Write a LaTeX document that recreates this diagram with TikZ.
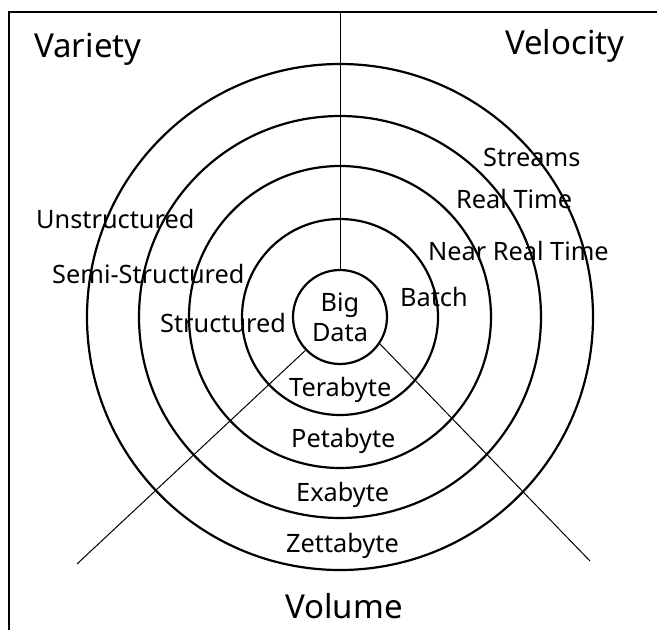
\documentclass[tikz,border=0pt]{standalone}
\usepackage{fontspec}
\setmainfont{Noto Sans}
\begin{document}
\begin{tikzpicture}[x=1pt,y=-1pt,
  ring/.style={line width=2.2pt},
  thin/.style={line width=1pt},
  lab/.style={anchor=base west,inner sep=0pt,font=\fontsize{25.3}{28}\selectfont},
  big/.style={anchor=base west,inner sep=0pt,font=\fontsize{33}{36}\selectfont}]
\useasboundingbox (0,0) rectangle (657,630);
\fill[white] (0,0) rectangle (657,630);
% frame
\coordinate (ftl) at (9,12);
\coordinate (ftr) at (660,12);
\coordinate (fbl) at (9,633);
\draw[line width=2pt] (fbl) -- (ftl) -- (ftr);
% rings
\coordinate (c) at (340,317);
\draw[ring] (c) circle[radius=98pt];
\draw[ring] (c) circle[radius=151pt];
\draw[ring] (c) circle[radius=201pt];
\draw[ring] (c) circle[radius=253pt];
\node[ring,draw,circle,minimum size=94pt,inner sep=0pt,align=center,
  font=\fontsize{25.3}{30}\selectfont] (bd) at (c) {Big\\Data};
% axes
\coordinate (vtop) at (340,12);
\coordinate (lend) at (77,564);
\coordinate (rend) at (590,561);
\draw[thin] (bd.north) -- (vtop);
\draw[thin] (bd.224) -- (lend);
\draw[thin] (bd.-34) -- (rend);
% headings
\node[big] (variety) at (34,57) {Variety};
\node[big] (velocity) at (505,54) {Velocity};
\node[big] (volume) at (285,618) {Volume};
% variety labels
\node[lab] (unst) at (36,228) {Unstructured};
\node[lab] (semi) at (52,283) {Semi-Structured};
\node[lab] (struc) at (160,332) {Structured};
% velocity labels
\node[lab] (streams) at (483,166) {Streams};
\node[lab] (rt) at (456,208) {Real Time};
\node[lab] (nrt) at (428,260) {Near Real Time};
\node[lab] (batch) at (400,306) {Batch};
% volume labels
\node[lab] (tera) at (289,396) {Terabyte};
\node[lab] (peta) at (291,447) {Petabyte};
\node[lab] (exa) at (296,501) {Exabyte};
\node[lab] (zetta) at (286,552) {Zettabyte};
\end{tikzpicture}
\end{document}
